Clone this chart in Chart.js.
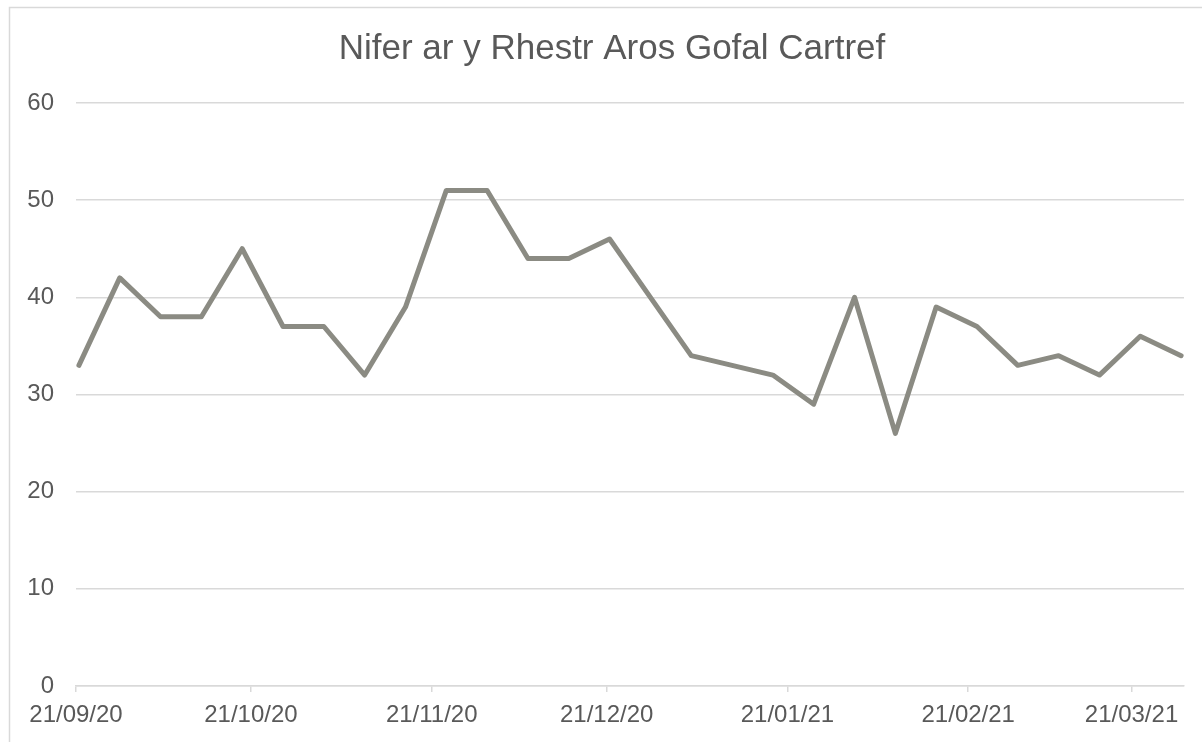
<!DOCTYPE html>
<html>
<head>
<meta charset="utf-8">
<script src="https://cdn.jsdelivr.net/npm/chart.js@4.4.1/dist/chart.umd.min.js"></script>
<style>
  html, body { margin: 0; padding: 0; background: #ffffff; }
  #wrap { position: relative; width: 1202px; height: 742px; }
</style>
</head>
<body>
<div id="wrap"><canvas id="c" width="1202" height="742"></canvas></div>
<script>
const chartTitle = 'Nifer ar y Rhestr Aros Gofal Cartref';

const weekDates = [
  '2020-09-21', '2020-09-28', '2020-10-05', '2020-10-12', '2020-10-19', '2020-10-26',
  '2020-11-02', '2020-11-09', '2020-11-16', '2020-11-23', '2020-11-30',
  '2020-12-07', '2020-12-14', '2020-12-21', '2020-12-28',
  '2021-01-04', '2021-01-11', '2021-01-18', '2021-01-25',
  '2021-02-01', '2021-02-08', '2021-02-15', '2021-02-22',
  '2021-03-01', '2021-03-08', '2021-03-15', '2021-03-22', '2021-03-29'
];

const waitingList = [
  33, 42, 38, 38, 45, 37,
  37, 32, 39, 51, 51,
  44, 44, 46, 40,
  34, 33, 32, 29,
  40, 26, 39, 37,
  33, 34, 32, 36, 34
];

const xTickLabels = ['21/09/20', '21/10/20', '21/11/20', '21/12/20', '21/01/21', '21/02/21', '21/03/21'];
const yTickValues = [0, 10, 20, 30, 40, 50, 60];

const DAY = 86400000;
const t0 = Date.parse(weekDates[0] + 'T00:00:00Z');
const dayOf = iso => Math.round((Date.parse(iso + 'T00:00:00Z') - t0) / DAY);
const labelToIso = s => { const [d, m, y] = s.split('/'); return '20' + y + '-' + m + '-' + d; };

const points = weekDates.map((d, i) => ({ x: dayOf(d), y: waitingList[i] }));
const xTickPos = xTickLabels.map(l => dayOf(labelToIso(l)) - 0.5);
const lastDay = dayOf(weekDates[weekDates.length - 1]);

const textColor = '#595959';
const gridColor = '#d9d9d9';

const framePlugin = {
  id: 'frame',
  beforeDraw(chart) {
    const ctx = chart.ctx;
    ctx.save();
    ctx.fillStyle = '#ffffff';
    ctx.fillRect(0, 0, chart.width, chart.height);
    ctx.strokeStyle = gridColor;
    ctx.lineWidth = 1.5;
    ctx.strokeRect(9.5, 7.5, chart.width + 50, chart.height + 50);
    ctx.restore();
  },
  afterDraw(chart) {
    const ctx = chart.ctx;
    ctx.save();
    ctx.fillStyle = textColor;
    ctx.font = 'normal 35px "Liberation Sans"';
    ctx.textAlign = 'center';
    ctx.textBaseline = 'middle';
    ctx.fillText(chartTitle, 612, 49);
    ctx.restore();
  }
};

new Chart(document.getElementById('c'), {
  type: 'line',
  data: {
    datasets: [{
      data: points,
      borderColor: '#8b8b83',
      borderWidth: 5,
      borderJoinStyle: 'round',
      borderCapStyle: 'round',
      pointRadius: 0,
      tension: 0,
      fill: false
    }]
  },
  options: {
    responsive: false,
    animation: false,
    layout: { padding: { left: 0, right: 18, top: 103, bottom: 0 } },
    plugins: {
      legend: { display: false },
      tooltip: { enabled: false },
      title: { display: false }
    },
    scales: {
      x: {
        type: 'linear',
        min: -0.5,
        max: lastDay + 0.5,
        afterBuildTicks(scale) { scale.ticks = xTickPos.map(v => ({ value: v })); },
        afterFit(scale) { scale.height = 56; },
        grid: { drawOnChartArea: false, drawTicks: true, tickLength: 6, color: gridColor, lineWidth: 1.5 },
        border: { display: true, color: gridColor, width: 1.5 },
        ticks: {
          autoSkip: false,
          maxRotation: 0,
          padding: 9,
          color: textColor,
          font: { family: 'Liberation Sans', size: 24 },
          callback(v) {
            const i = xTickPos.indexOf(v);
            return i >= 0 ? xTickLabels[i] : '';
          }
        }
      },
      y: {
        min: 0,
        max: 60,
        afterBuildTicks(scale) { scale.ticks = yTickValues.map(v => ({ value: v })); },
        afterFit(scale) { scale.width = 76; },
        grid: { drawTicks: false, color: gridColor, lineWidth: 1.5 },
        border: { display: false },
        ticks: {
          padding: 22,
          color: textColor,
          font: { family: 'Liberation Sans', size: 24 }
        }
      }
    }
  },
  plugins: [framePlugin]
});
</script>
</body>
</html>
